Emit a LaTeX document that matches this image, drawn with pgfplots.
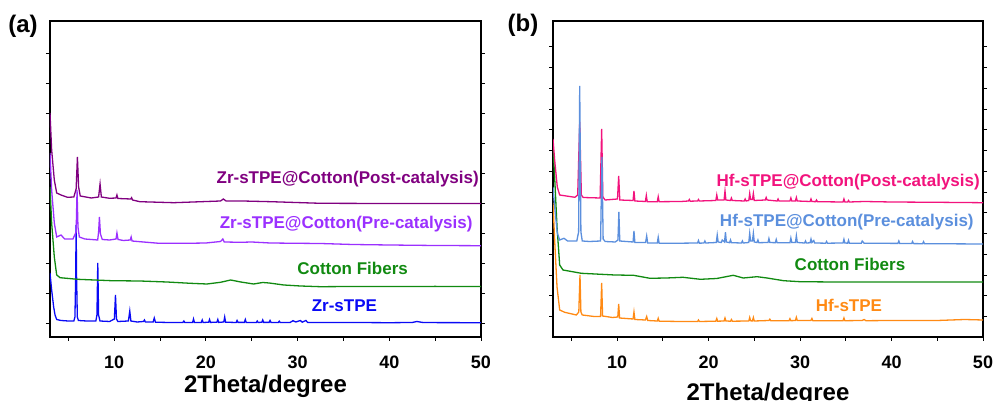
\documentclass[border=0pt]{standalone}
\usepackage{fontspec}
\setmainfont{Liberation Sans}
\usepackage{pgfplots}
\pgfplotsset{compat=1.18}
\definecolor{zrpost}{HTML}{800080}
\definecolor{zrpre}{HTML}{9B30FF}
\definecolor{cotton}{HTML}{118A11}
\definecolor{zrblue}{HTML}{0A0AF5}
\definecolor{hfpost}{HTML}{F2137D}
\definecolor{hfpre}{HTML}{5B8FDD}
\definecolor{hforange}{HTML}{FF8A14}

\tikzset{lbl/.style={font=\fontsize{17}{20}\selectfont\bfseries, inner sep=0pt}}
\pgfplotsset{xrd/.style={scale only axis, width=431pt, height=316pt,
  xmin=3, xmax=50, ymin=0, ymax=316,
  xtick={10,20,30,40,50},
  xticklabels={\textbf{10},\textbf{20},\textbf{30},\textbf{40},\textbf{50}},
  minor xtick={5,15,25,35,45},
  yticklabels={}, xtick pos=bottom, ytick pos=both,
  tick align=outside, major tick length=4pt, minor tick length=4pt,
  tick style={black, line width=0.9pt},
  axis line style={line width=1.6pt},
  xticklabel style={font=\fontsize{18}{20}\selectfont\bfseries, inner sep=0pt, anchor=north, yshift=-15pt},
  xlabel={2Theta/degree},
  xlabel style={at={(axis description cs:0.5,0)}, anchor=north, inner sep=0pt, font=\fontsize{24}{28}\selectfont\bfseries},
  every axis plot/.append style={line width=1.3pt, no marks}}}

\begin{document}
\begin{tikzpicture}
% ---------- (a) Zr ----------
\begin{axis}[xrd, at={(50pt,64pt)}, anchor=south west,
  ytick={14,44,...,284}, xlabel style={yshift=-38pt}]
\addplot[zrblue] coordinates {(3,64) (3.18,47) (3.4,30) (3.55,22) (3.73,17.5) (4.2,16.5) (5.0,16) (5.6,16) (5.72,20) (5.8,60) (5.85,112) (5.9,60) (5.98,20) (6.1,16.5) (7,16) (8.0,16) (8.12,22) (8.21,74) (8.3,22) (8.45,16) (9.5,15.5) (10.02,18) (10.14,42) (10.25,18) (10.4,15.5) (11.55,16) (11.7,26) (11.82,16) (12.5,15) (13.2,15.5) (13.3,17) (13.4,15) (14.25,15) (14.37,19) (14.5,14.8) (16,14.5) (17.5,14.6) (17.6,16) (17.7,14.5) (18.55,14.5) (18.65,18) (18.75,14.5) (19.5,14.6) (19.6,17) (19.7,14.5) (20.3,14.8) (20.4,17.5) (20.5,14.6) (21.2,14.8) (21.3,17.5) (21.4,14.6) (21.95,15) (22.05,20) (22.15,14.8) (23.3,14.5) (23.4,16.5) (23.5,14.6) (24.2,14.6) (24.3,17.5) (24.4,14.6) (25.5,14.5) (25.6,16) (25.7,14.5) (26.1,14.8) (26.2,17) (26.3,14.6) (26.9,14.6) (27.0,16.5) (27.1,14.6) (27.9,14.5) (28,15.8) (28.1,14.5) (29.2,14.6) (29.5,16.3) (29.8,15) (30.3,16.5) (30.5,14.8) (30.9,16.5) (31.1,14.6) (33,14.4) (36,14.5) (40,14.3) (42.5,14.5) (43,15.5) (43.6,14.6) (45,14.4) (50,14.3)};
\addplot[cotton] coordinates {(3,150) (3.18,114) (3.47,80) (3.73,62) (4.1,59.3) (6,57.7) (9.7,56.3) (12.8,56) (15.75,55) (18.3,53.7) (20.1,53) (21.6,54.7) (22.7,57) (23.8,55) (25.2,53) (26.2,54.5) (26.9,54) (28.5,52) (30.3,51) (32.5,50.3) (36,50.5) (40,50.4) (45,50.6) (50,50.4)};
\addplot[zrpre] coordinates {(3,184) (3.18,147) (3.47,114) (3.73,100) (4.2,102) (4.6,98) (5.5,98) (5.85,105) (5.95,147) (6.05,110) (6.2,100) (6.8,98) (8.2,97) (8.3,105) (8.39,120) (8.5,103) (8.7,97.5) (9.5,97) (10.2,98) (10.3,104) (10.42,97.5) (11.0,96.5) (11.75,97) (11.85,100) (11.95,96) (12.8,95.3) (14.9,93.7) (18,93.7) (20,94) (21.6,95.5) (21.85,98) (22.0,95) (23.8,94.7) (25,95) (27,94) (30,93.7) (32.5,93.5) (36,92.5) (40,92) (45,91.5) (50,91.3)};
\addplot[zrpost] coordinates {(3,224) (3.18,187) (3.47,157) (3.73,144) (4.2,142) (4.9,139.7) (5.6,140) (5.85,148) (5.99,180) (6.12,150) (6.3,141) (7.5,139) (8.3,140) (8.46,153) (8.6,140) (9.5,138.7) (10.2,139) (10.3,142) (10.4,138.5) (11.8,138) (11.9,139.3) (12.0,137) (12.8,135.3) (16.5,134.3) (21.6,136) (21.9,138) (22.2,136) (24,136) (27.1,135.3) (32.5,133.7) (40,133.5) (50,133.5)};
\node[lbl, zrpost, anchor=east] at (axis cs:49.78,158) {Zr-sTPE@Cotton(Post-catalysis)};
\node[lbl, zrpre, anchor=east] at (axis cs:49.1,113) {Zr-sTPE@Cotton(Pre-catalysis)};
\node[lbl, cotton] at (axis cs:36.0,69) {Cotton Fibers};
\node[lbl, zrblue] at (axis cs:35.1,31) {Zr-sTPE};
\end{axis}

% ---------- (b) Hf ----------
\begin{axis}[xrd, at={(553pt,64pt)}, anchor=south west, width=430pt,
  ytick={20.3,41.05,...,292}, xlabel style={yshift=-46pt}]
\addplot[hforange] coordinates {(3,134) (3.18,97) (3.44,50) (3.73,27) (4.28,24.7) (5.55,22) (5.82,25) (5.95,62) (6.05,25) (6.2,22) (7.5,20.5) (8.2,20.5) (8.32,54) (8.42,21) (9.5,19.5) (10.08,20) (10.18,33) (10.28,19) (11.75,18) (11.85,25) (11.95,17.5) (13.1,17) (13.24,20.5) (13.35,16.5) (14.4,16) (14.5,18.7) (14.6,15.8) (17,15.5) (18.8,15.5) (18.9,17) (19,15.5) (20.8,15.8) (20.9,18.5) (21,15.8) (21.7,16) (21.8,19) (21.9,16) (22.4,15.8) (22.5,17.5) (22.6,15.8) (24.4,16) (24.5,19.5) (24.6,16.2) (24.8,16) (24.9,19.5) (25,16) (26.6,16.5) (26.7,17.8) (26.8,16.3) (28.8,16.3) (28.9,18.3) (29,16.3) (29.5,16.5) (29.6,19.7) (29.7,16.5) (31.2,16.5) (31.3,18.5) (31.4,16.3) (34.7,16.3) (34.8,19) (34.9,16.3) (36.8,16.5) (37,17.5) (37.2,16.3) (40,16.5) (45,16.5) (48,17.5) (50,17)};
\addplot[cotton] coordinates {(3,191) (3.18,160) (3.44,110) (3.73,72) (4.09,67) (6.1,63.7) (9.76,62) (11.8,61.7) (13.6,58.7) (15.4,59) (17.2,59.7) (19.1,57.7) (20.9,58.5) (22.7,61.7) (23.8,59) (25.3,60.3) (26.4,59) (28.2,56.3) (30,55.3) (33.7,55) (40,55) (50,55)};
\addplot[hfpost] coordinates {(3,198) (3.18,177) (3.47,150) (3.73,142) (5.4,139.7) (5.7,142) (5.92,215) (6.1,142) (6.3,139.5) (8.15,139) (8.32,208) (8.45,140) (8.7,137) (10.05,138) (10.18,161) (10.3,137) (11.75,136.5) (11.85,146) (11.95,136) (13.1,135.5) (13.2,141.5) (13.3,135.3) (14.4,135.3) (14.5,140.3) (14.6,135.3) (17,135.5) (17.8,136) (17.9,137.5) (18,135.8) (18.8,136) (18.9,137.5) (19,136) (20.8,136.5) (20.9,142) (21,137) (21.7,137) (21.8,146) (21.9,137) (22.4,136.5) (22.5,139) (22.6,136.5) (23.9,136) (24,138) (24.1,136) (24.4,136.5) (24.5,143.5) (24.6,137.5) (24.8,137.5) (24.9,143.5) (25,136.5) (26.2,137) (26.3,139.5) (26.4,137) (27.5,136) (27.6,138) (27.7,136) (28.9,136) (29,139) (29.1,136) (29.5,136) (29.6,139.5) (29.7,136) (31.1,135.5) (31.2,138) (31.3,135.5) (31.7,135.3) (31.8,137) (31.9,135.3) (34.7,135) (34.8,138) (34.9,135) (35.2,135) (35.3,136.5) (35.4,135) (37,135.5) (40,135) (45,134.7) (50,134.3)};
\addplot[hfpre] coordinates {(3,150) (3.18,130) (3.47,104) (3.73,97) (4.2,98.7) (4.6,96) (5.6,96) (5.8,105) (5.92,251) (6.05,105) (6.2,96) (7,95.5) (8.2,96) (8.35,180) (8.48,98) (8.7,95.5) (9.8,95) (10.1,97) (10.2,125) (10.3,96) (11.75,95) (11.85,106) (11.95,94.5) (13.12,94.5) (13.24,101) (13.35,94) (14.4,94) (14.5,99.7) (14.6,93.8) (16,93.7) (18.8,94) (18.9,96.5) (19,93.8) (19.5,94) (19.6,96) (19.7,94) (20.85,94.5) (20.95,102) (21.05,95) (21.4,94.5) (21.5,97) (21.75,95) (21.85,104.7) (21.95,95) (22.3,94.3) (22.4,97) (22.5,94.3) (23.6,94) (23.7,96) (23.8,94) (24.4,94.5) (24.5,103.7) (24.6,96) (24.8,96) (24.9,103.7) (25,95) (25.3,94.5) (25.4,97) (25.5,94.3) (26.5,94.5) (26.6,98.5) (26.7,94.5) (27.3,94.3) (27.4,97.5) (27.5,94.3) (28.9,94.3) (29,99) (29.1,94.5) (29.5,94.5) (29.6,101.3) (29.7,94.5) (30.5,94) (30.6,96) (30.7,94) (31.1,94.2) (31.2,98) (31.3,94.5) (31.5,96.5) (31.6,94) (32.8,93.8) (32.9,95.5) (33,93.8) (34.7,94) (34.8,97.7) (34.9,94) (35.2,93.8) (35.3,96.7) (35.4,93.8) (36.7,93.8) (36.8,96) (37,93.8) (40.7,93.6) (40.8,96) (40.9,93.5) (42.2,93.4) (42.3,95.5) (42.4,93.4) (43.4,93.3) (43.5,95.3) (43.6,93.3) (46,93.2) (50,93)};
\node[lbl, hfpost, anchor=east] at (axis cs:49.67,155.3) {Hf-sTPE@Cotton(Post-catalysis)};
\node[lbl, hfpre, anchor=east] at (axis cs:49.0,115.3) {Hf-sTPE@Cotton(Pre-catalysis)};
\node[lbl, cotton] at (axis cs:35.46,72.7) {Cotton Fibers};
\node[lbl, hforange] at (axis cs:35.35,32) {Hf-sTPE};
\end{axis}

\node[font=\fontsize{24}{28}\selectfont\bfseries] at (23pt,375pt) {(a)};
\node[font=\fontsize{24}{28}\selectfont\bfseries] at (523pt,376pt) {(b)};
\pgfresetboundingbox
\useasboundingbox (0,0) rectangle (997pt,401pt);
\end{tikzpicture}
\end{document}
